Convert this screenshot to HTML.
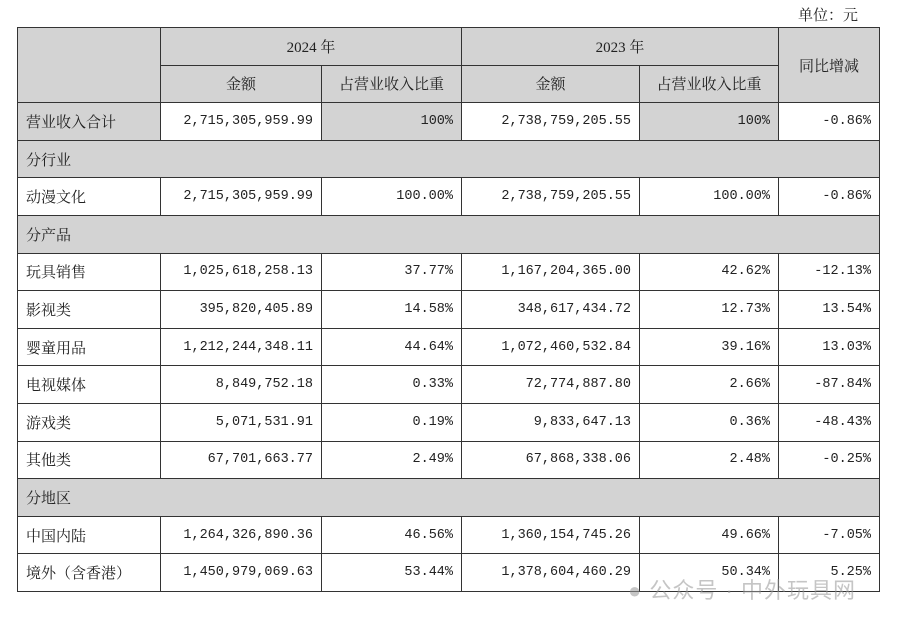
<!DOCTYPE html>
<html><head><meta charset="utf-8">
<style>
html,body{margin:0;padding:0;background:#fff;width:917px;height:626px;overflow:hidden;}
body{position:relative;font-family:"Liberation Serif","Noto Serif CJK SC",serif;color:#222;}
.unit{position:absolute;left:798px;top:4px;font-size:15px;}
table{position:absolute;left:17px;top:27px;border-collapse:collapse;table-layout:fixed;}
td{border:1px solid #333;padding:0 8px;font-size:15px;height:37.6px;box-sizing:border-box;white-space:nowrap;}
.g{background:#d3d3d3;}
.n{text-align:right;font-family:"Liberation Mono","Noto Serif CJK SC",monospace;font-size:13.5px;}
.c{text-align:center;}
.wm{position:absolute;left:628px;top:573px;font-size:22px;color:rgba(150,150,150,0.55);font-family:"Liberation Sans","Noto Sans CJK SC",sans-serif;letter-spacing:1px;}
</style></head><body>
<div class="unit">单位：元</div>
<table>
<colgroup><col style="width:143px"><col style="width:161px"><col style="width:140px"><col style="width:178px"><col style="width:139px"><col style="width:101px"></colgroup>
<tr><td class="g" rowspan="2"></td><td class="g c" colspan="2">2024 年</td><td class="g c" colspan="2">2023 年</td><td class="g c" rowspan="2">同比增减</td></tr>
<tr><td class="g c">金额</td><td class="g c">占营业收入比重</td><td class="g c">金额</td><td class="g c">占营业收入比重</td></tr>
<tr><td class="g">营业收入合计</td><td class="n">2,715,305,959.99</td><td class="g n">100%</td><td class="n">2,738,759,205.55</td><td class="g n">100%</td><td class="n">-0.86%</td></tr>
<tr><td class="g" colspan="6">分行业</td></tr>
<tr><td>动漫文化</td><td class="n">2,715,305,959.99</td><td class="n">100.00%</td><td class="n">2,738,759,205.55</td><td class="n">100.00%</td><td class="n">-0.86%</td></tr>
<tr><td class="g" colspan="6">分产品</td></tr>
<tr><td>玩具销售</td><td class="n">1,025,618,258.13</td><td class="n">37.77%</td><td class="n">1,167,204,365.00</td><td class="n">42.62%</td><td class="n">-12.13%</td></tr>
<tr><td>影视类</td><td class="n">395,820,405.89</td><td class="n">14.58%</td><td class="n">348,617,434.72</td><td class="n">12.73%</td><td class="n">13.54%</td></tr>
<tr><td>婴童用品</td><td class="n">1,212,244,348.11</td><td class="n">44.64%</td><td class="n">1,072,460,532.84</td><td class="n">39.16%</td><td class="n">13.03%</td></tr>
<tr><td>电视媒体</td><td class="n">8,849,752.18</td><td class="n">0.33%</td><td class="n">72,774,887.80</td><td class="n">2.66%</td><td class="n">-87.84%</td></tr>
<tr><td>游戏类</td><td class="n">5,071,531.91</td><td class="n">0.19%</td><td class="n">9,833,647.13</td><td class="n">0.36%</td><td class="n">-48.43%</td></tr>
<tr><td>其他类</td><td class="n">67,701,663.77</td><td class="n">2.49%</td><td class="n">67,868,338.06</td><td class="n">2.48%</td><td class="n">-0.25%</td></tr>
<tr><td class="g" colspan="6">分地区</td></tr>
<tr><td>中国内陆</td><td class="n">1,264,326,890.36</td><td class="n">46.56%</td><td class="n">1,360,154,745.26</td><td class="n">49.66%</td><td class="n">-7.05%</td></tr>
<tr><td>境外（含香港）</td><td class="n">1,450,979,069.63</td><td class="n">53.44%</td><td class="n">1,378,604,460.29</td><td class="n">50.34%</td><td class="n">5.25%</td></tr>
</table>
<div class="wm">● 公众号 · 中外玩具网</div>
</body></html>
